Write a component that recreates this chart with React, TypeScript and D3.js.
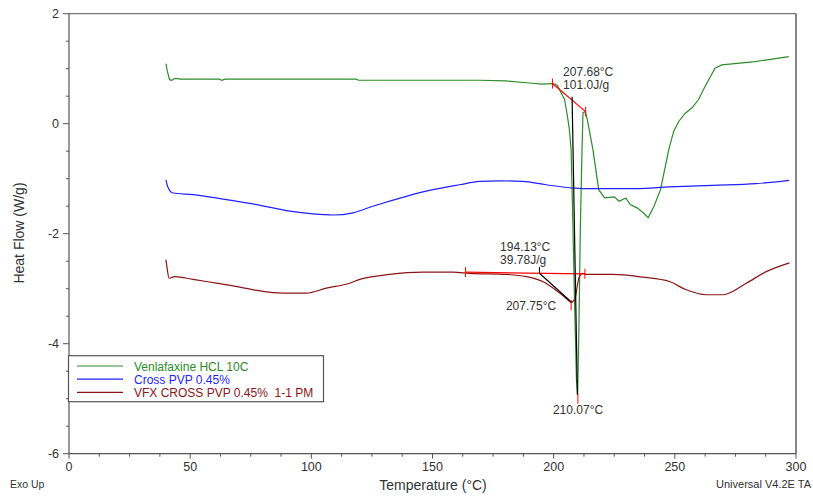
import React from "react";
import * as d3 from "d3";

type P = [number, number];

const seriesNames = ["Venlafaxine HCL 10C", "Cross PVP 0.45%", "VFX CROSS PVP 0.45%\u00a0 1-1 PM"];
const seriesColors = ["#2a8c2a", "#1f1fff", "#8b1414"];

const venlafaxine: P[] = [
  [40.0, 1.09], [40.6, 0.95], [41.5, 0.8], [42.5, 0.79], [43.5, 0.82], [45, 0.82], [46, 0.81],
  [62, 0.81], [63, 0.79], [64.5, 0.81], [100, 0.81], [118.5, 0.81], [119.5, 0.79], [150, 0.79],
  [169.4, 0.79], [180, 0.78], [190, 0.74], [195, 0.72], [199.5, 0.73], [201.5, 0.7], [203.1, 0.56],
  [204.5, 0.44], [205.7, 0.13], [206.5, -0.11], [207.2, -0.47], [207.7, -1.38], [208.6, -3.2],
  [209.4, -4.65], [209.9, -4.93], [210.4, -3.75], [211.0, -1.93], [211.7, -0.47], [212.1, 0.2],
  [213.1, 0.22], [214.0, 0.05], [216.2, -0.47], [218.6, -1.2], [221.0, -1.35], [225.0, -1.33],
  [227.0, -1.41], [229.8, -1.35], [231.6, -1.47], [234.4, -1.53], [237.0, -1.62], [239.0, -1.71],
  [241.4, -1.5], [244.1, -1.2], [245.5, -0.9], [247.5, -0.47], [249.5, -0.14], [251.6, 0.04],
  [254.3, 0.19], [257.1, 0.29], [259.8, 0.44], [262.5, 0.68], [266.6, 1.01], [269.4, 1.07],
  [283.1, 1.13], [297.0, 1.22],
];

const crossPvp: P[] = [
  [40.0, -1.02], [40.8, -1.15], [42.9, -1.26], [51.2, -1.29], [63.6, -1.37], [77.4, -1.47],
  [91.1, -1.59], [100.7, -1.64], [108.9, -1.66], [117.2, -1.62], [125.4, -1.5], [139.2, -1.32],
  [150.2, -1.2], [161.2, -1.11], [169.4, -1.05], [177.7, -1.04], [187.1, -1.05], [196.9, -1.11],
  [207.9, -1.17], [211.9, -1.18], [234.0, -1.18], [247.7, -1.15], [265.6, -1.12], [283.5, -1.09],
  [297.2, -1.03],
];

const vfxCross: P[] = [
  [40.0, -2.47], [40.4, -2.6], [41.3, -2.81], [42.0, -2.8], [43.7, -2.78], [51.2, -2.83],
  [60.9, -2.9], [70.5, -2.97], [78.7, -3.04], [88.3, -3.08], [98.0, -3.08], [106.2, -2.99],
  [115.8, -2.9], [120.0, -2.83], [132.3, -2.74], [146.0, -2.7], [158.4, -2.7], [165.3, -2.72],
  [180.4, -2.74], [188.7, -2.78], [195.5, -2.87], [201.0, -3.03], [205.8, -3.2], [207.2, -3.25],
  [207.75, -3.24], [208.9, -3.17], [209.7, -2.96], [210.6, -2.78], [212.0, -2.72], [213.4, -2.74],
  [224.4, -2.74], [236.8, -2.79], [247.8, -2.87], [254.7, -3.02], [262.9, -3.11], [269.9, -3.11],
  [279.5, -2.9], [287.7, -2.69], [297.3, -2.53],
];

const allSeries = [venlafaxine, crossPvp, vfxCross];

// analysis annotations (data coordinates)
const redLines: P[][] = [
  [[199.5, 0.73], [213.2, 0.22]],
  [[163.6, -2.7], [212.9, -2.73]],
];
const blackLines: P[][] = [
  [[207.6, 0.49], [209.8, -4.93]],
  [[194.13, -2.72], [207.5, -3.25]],
];
const redMarks: P[] = [[199.5, 0.73], [213.2, 0.22], [163.6, -2.7], [212.9, -2.73], [207.2, -3.3], [210.0, -5.0]];
const blackMarks: P[] = [[194.13, -2.66]];

const annotations: { t: number; h: number; lines: string[] }[] = [
  { t: 203.9, h: 0.876, lines: ["207.68°C", "101.0J/g"] },
  { t: 177.9, h: -2.317, lines: ["194.13°C", "39.78J/g"] },
  { t: 180.3, h: -3.38, lines: ["207.75°C"] },
  { t: 199.7, h: -5.286, lines: ["210.07°C"] },
];

const xMajor = [0, 50, 100, 150, 200, 250, 300];
const yMajor = [2, 0, -2, -4, -6];

const W = 813;
const H = 497;

export default function App() {
  const x = d3.scaleLinear().domain([0, 300]).range([69, 796]);
  const y = d3.scaleLinear().domain([-6, 2]).range([453.7, 13.7]);
  const line = d3
    .line<P>()
    .x((d) => x(d[0]))
    .y((d) => y(d[1]));
  const smooth = d3
    .line<P>()
    .x((d) => x(d[0]))
    .y((d) => y(d[1]))
    .curve(d3.curveMonotoneX);

  const xMinor = d3.range(0, 300.01, 12.5);
  const yMinor = d3.range(-6, 2.001, 0.5);
  const font = "'Liberation Sans', Arial, sans-serif";
  const axisColor = "#555";

  return (
    <svg
      width={W}
      height={H}
      style={{ position: "absolute", left: 0, top: 0, background: "#fff" }}
      fontFamily={font}
    >
      <rect x={0} y={0} width={W} height={H} fill="#fff" />
      {/* frame */}
      <line x1={x(0)} x2={x(300)} y1={y(2)} y2={y(2)} stroke="#777" strokeWidth={1.2} />
      <line x1={x(300)} x2={x(300)} y1={y(2)} y2={y(-6)} stroke="#333" strokeWidth={1.2} />
      <line x1={x(0)} x2={x(300)} y1={y(-6)} y2={y(-6)} stroke={axisColor} strokeWidth={1.2} />
      <line x1={x(0)} x2={x(0)} y1={y(2)} y2={y(-6)} stroke={axisColor} strokeWidth={1.2} />

      {/* ticks */}
      {xMinor.map((v) => (
        <line key={"xm" + v} x1={x(v)} x2={x(v)} y1={y(-6)} y2={y(-6) + (v % 50 === 0 ? 5 : 3)} stroke={axisColor} />
      ))}
      {yMinor.map((v) => (
        <line key={"ym" + v} x1={x(0)} x2={x(0) - (v % 2 === 0 ? 6 : 3)} y1={y(v)} y2={y(v)} stroke={axisColor} />
      ))}
      {xMajor.map((v) => (
        <text key={"xl" + v} x={x(v)} y={y(-6) + 17} fontSize={12.5} textAnchor="middle" fill="#333">
          {v}
        </text>
      ))}
      {yMajor.map((v) => (
        <text key={"yl" + v} x={x(0) - 10} y={y(v) + 4.5} fontSize={12.5} textAnchor="end" fill="#333">
          {v}
        </text>
      ))}

      <text x={433} y={490} fontSize={14} textAnchor="middle" fill="#333">
        Temperature (°C)
      </text>
      <text transform={`translate(24,233) rotate(-90)`} fontSize={14} textAnchor="middle" fill="#333">
        Heat Flow (W/g)
      </text>
      <text x={10} y={488} fontSize={10.5} fill="#333">
        Exo Up
      </text>
      <text x={811} y={488} fontSize={11} textAnchor="end" fill="#333">
        Universal V4.2E TA
      </text>

      {/* data */}
      {allSeries.map((s, i) => (
        <path
          key={"s" + i}
          d={(i === 0 ? line(s) : smooth(s)) || ""}
          fill="none"
          stroke={seriesColors[i]}
          strokeWidth={1.2}
        />
      ))}

      {/* analysis */}
      {redLines.map((l, i) => (
        <path key={"rl" + i} d={line(l) || ""} fill="none" stroke="#ff0000" strokeWidth={1.2} />
      ))}
      {blackLines.map((l, i) => (
        <path key={"bl" + i} d={line(l) || ""} fill="none" stroke="#000" strokeWidth={1.2} />
      ))}
      {redMarks.map((m, i) => (
        <line key={"rm" + i} x1={x(m[0])} x2={x(m[0])} y1={y(m[1]) - 5} y2={y(m[1]) + 5} stroke="#ff0000" strokeWidth={1} />
      ))}
      {blackMarks.map((m, i) => (
        <line key={"bm" + i} x1={x(m[0])} x2={x(m[0])} y1={y(m[1]) - 3} y2={y(m[1]) + 3} stroke="#000" strokeWidth={1} />
      ))}
      {annotations.map((a, i) => (
        <text key={"an" + i} x={x(a.t)} y={y(a.h)} fontSize={12} fill="#333">
          {a.lines.map((ln, j) => (
            <tspan key={j} x={x(a.t)} dy={j === 0 ? 0 : 13}>
              {ln}
            </tspan>
          ))}
        </text>
      ))}

      {/* legend */}
      <rect x={68.5} y={355.7} width={255} height={46} fill="#fff" stroke="#555" strokeWidth={1.2} />
      {seriesNames.map((n, i) => (
        <g key={"lg" + i}>
          <line x1={77} x2={123} y1={366 + i * 13.2} y2={366 + i * 13.2} stroke={seriesColors[i]} strokeWidth={1.2} />
          <text x={134} y={370.5 + i * 13.2} fontSize={12} fill={seriesColors[i]}>
            {n}
          </text>
        </g>
      ))}
    </svg>
  );
}
